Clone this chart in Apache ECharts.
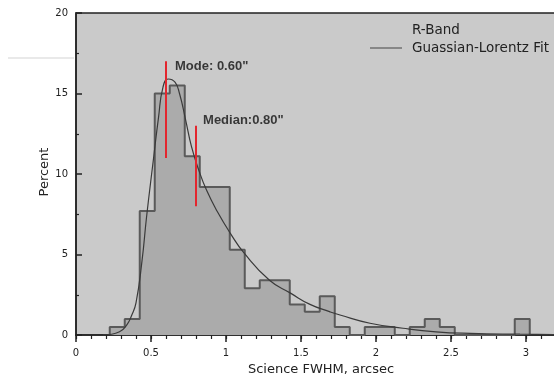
<!DOCTYPE html>
<html>
<head>
<meta charset="utf-8">
<script src="https://cdn.jsdelivr.net/npm/echarts@6/dist/echarts.min.js"></script>
<style>
html,body{margin:0;padding:0;background:#fff;}
#chart{width:554px;height:377px;}
</style>
</head>
<body>
<div id="chart"></div>
<script>
// Histogram bins (FWHM, arcsec) and percentages
const binEdges = [0.225,0.325,0.425,0.525,0.625,0.725,0.825,0.925,1.025,1.125,1.225,1.325,1.425,1.525,1.625,1.725,1.825,1.925,2.025,2.125,2.225,2.325,2.425,2.525,2.625,2.725,2.825,2.925,3.025];
const binPercent = [0.5,1.0,7.7,15.0,15.5,11.1,9.2,9.2,5.3,2.9,3.4,3.4,1.9,1.45,2.4,0.5,0,0.5,0.5,0,0.5,1.0,0.5,0,0,0,0,1.0];

// Gaussian-Lorentz fit curve
const fitX = [0.18,0.29,0.34,0.37,0.40,0.44,0.47,0.516,0.55,0.58,0.615,0.66,0.69,0.73,0.77,0.82,0.87,0.94,1.03,1.12,1.29,1.43,1.56,1.69,1.76,1.96,2.18,2.40,2.63,2.96,3.2];
const fitY = [0,0.2,0.65,1.2,2.0,4.6,7.3,10.9,13.5,15.4,15.9,15.7,15.0,13.4,11.7,10.2,9.0,7.7,6.3,5.1,3.4,2.6,1.9,1.45,1.24,0.73,0.42,0.2,0.1,0.05,0.03];

// Annotations
const modeValue = 0.60;
const modeRange = [11, 17];
const medianValue = 0.80;
const medianRange = [8, 13];

// Axis ticks
const xTickLabels = [0, 0.5, 1, 1.5, 2, 2.5, 3];
const yTickLabels = [0, 5, 10, 15, 20];

const stepData = [[binEdges[0], 0]];
for (let i = 0; i < binPercent.length; i++) stepData.push([binEdges[i], binPercent[i]]);
stepData.push([binEdges[binEdges.length - 1], binPercent[binPercent.length - 1]]);
stepData.push([binEdges[binEdges.length - 1], 0]);

const fitData = fitX.map((x, i) => [x, fitY[i]]);

const chart = echarts.init(document.getElementById('chart'));
const axisColor = '#222';
chart.setOption({
  animation: false,
  backgroundColor: '#fff',
  textStyle: { fontFamily: 'DejaVu Sans' },
  grid: { left: 76, top: 13, right: -2, bottom: 42, outerBoundsMode: 'none', containLabel: false, show: true, backgroundColor: '#cacaca', borderColor: axisColor, borderWidth: 1.5 },
  legend: {
    orient: 'vertical', left: 365, top: 18, itemWidth: 32, itemHeight: 1, itemGap: 4,
    selectedMode: false,
    textStyle: { fontFamily: 'DejaVu Sans', fontSize: 13.5, color: '#222', padding: [0, 0, 0, 5] },
    data: [{ name: 'R-Band', icon: 'none' }, { name: 'Guassian-Lorentz Fit', icon: 'rect', itemStyle: { color: '#444' } }]
  },
  xAxis: [
    {
      type: 'value', min: 0, max: 3.2, interval: 0.5, position: 'bottom',
      axisLine: { show: true, onZero: false, lineStyle: { color: axisColor, width: 1.5 } },
      axisTick: { show: true, inside: false, length: 7, lineStyle: { color: axisColor, width: 1.5 } },
      axisLabel: { margin: 13, fontSize: 10, color: '#222', formatter: v => xTickLabels.indexOf(Math.round(v * 10) / 10) >= 0 ? String(Math.round(v * 10) / 10) : '' },
      splitLine: { show: false },
      name: 'Science FWHM, arcsec', nameLocation: 'middle', nameGap: 27,
      nameTextStyle: { fontSize: 13, color: '#222', padding: [0, 0, 0, 10] }
    },
    {
      type: 'value', min: 0, max: 3.2, interval: 0.1, position: 'bottom', offset: 0,
      axisLine: { show: false },
      axisTick: { show: true, inside: false, length: 4, lineStyle: { color: axisColor, width: 1.2 } },
      axisLabel: { show: false },
      splitLine: { show: false }
    }
  ],
  yAxis: {
    type: 'value', min: 0, max: 20, interval: 5,
    axisLine: { show: true, onZero: false, lineStyle: { color: axisColor, width: 1.5 } },
    axisTick: { show: true, inside: true, length: 6, lineStyle: { color: axisColor, width: 1.5 } },
    minorTick: { show: true, splitNumber: 2, length: 3, lineStyle: { color: axisColor, width: 1.2 } },
    axisLabel: { margin: 8, fontSize: 10, color: '#222', formatter: v => yTickLabels.indexOf(v) >= 0 ? String(v) : '' },
    splitLine: { show: false }
  },
  graphic: [
    { type: 'line', shape: { x1: 8, y1: 58, x2: 74, y2: 58 }, style: { stroke: '#e2e2e2', lineWidth: 1.5 }, silent: true },
    { type: 'text', x: 45, y: 172, rotation: Math.PI / 2, style: { text: 'Percent', fontFamily: 'DejaVu Sans', fontSize: 13, fill: '#222', textAlign: 'center', textVerticalAlign: 'middle' } }
  ],
  series: [
    {
      name: 'R-Band', type: 'line', step: 'end', data: stepData, symbol: 'none',
      lineStyle: { color: '#5a5a5a', width: 2 },
      areaStyle: { color: '#ababab', opacity: 1 },
      itemStyle: { color: '#ababab' }, z: 2
    },
    {
      name: 'Guassian-Lorentz Fit', type: 'line', smooth: 0.5, data: fitData, symbol: 'none',
      lineStyle: { color: '#3a3a3a', width: 1.2 }, itemStyle: { color: '#3a3a3a' }, z: 3
    },
    {
      name: 'mode', type: 'line', data: [[modeValue, modeRange[0]], [modeValue, modeRange[1]]], symbol: 'none',
      lineStyle: { color: '#e3262e', width: 2 }, z: 4
    },
    {
      name: 'median', type: 'line', data: [[medianValue, medianRange[0]], [medianValue, medianRange[1]]], symbol: 'none',
      lineStyle: { color: '#e3262e', width: 2 }, z: 4
    },
    {
      name: 'labels', type: 'scatter', symbolSize: 0, z: 5,
      data: [
        { value: [0.66, 16.66], text: 'Mode: ' + modeValue.toFixed(2) + '"' },
        { value: [0.847, 13.3], text: 'Median:' + medianValue.toFixed(2) + '"' }
      ],
      label: {
        show: true, position: [0, 0], align: 'left', verticalAlign: 'middle',
        fontFamily: 'Liberation Sans', fontWeight: 'bold', fontSize: 13, color: '#111',
        formatter: p => p.data.text
      }
    }
  ]
});
</script>
</body>
</html>
